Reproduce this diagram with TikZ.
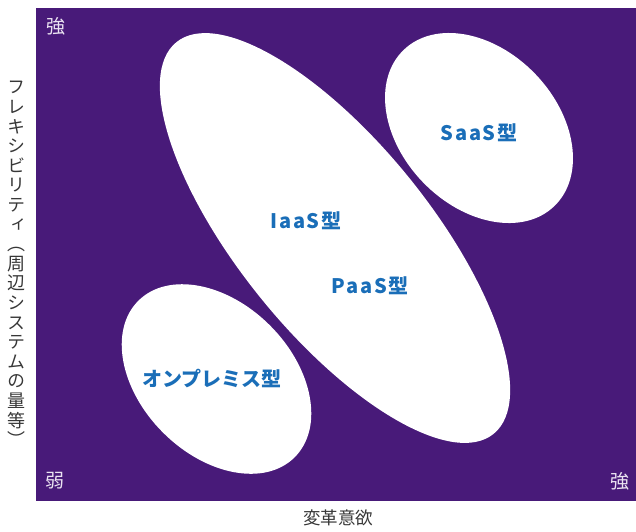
\documentclass[tikz,border=0pt]{standalone}
\usepackage{fontspec}
\newfontfamily\jp{Noto Sans CJK JP}
\newfontfamily\jpv[RawFeature=+vert]{Noto Sans CJK JP}
\newcommand\lsgap{\kern1.6pt}
\definecolor{bgpurple}{RGB}{72,26,121}
\definecolor{lblue}{RGB}{26,110,184}
\definecolor{axisgray}{RGB}{55,55,55}
\definecolor{cornertxt}{RGB}{235,228,242}
\begin{document}
\begin{tikzpicture}[x=1pt,y=-1pt,
  cluster/.style={fill=white},
  typelabel/.style={text=lblue,font=\jp\bfseries\fontsize{20}{23}\selectfont,inner sep=0pt},
  corner/.style={text=cornertxt,font=\jp\fontsize{19}{22}\selectfont,inner sep=0pt},
  axislabel/.style={text=axisgray,inner sep=0pt}]
\useasboundingbox (0,0) rectangle (636,531);
\fill[bgpurple] (36,8) rectangle (636,501);
% clusters
\fill[cluster, rotate around={-51:(335,238)}] (335,238) ellipse [x radius=252, y radius=95.5];
\fill[cluster, rotate around={-46:(479,128)}] (479,128) ellipse [x radius=108.5, y radius=78];
\fill[cluster, rotate around={-45:(216.5,379)}] (216.5,379) ellipse [x radius=110.6, y radius=75.7];
% labels
\node[typelabel] (saas) at (479,133) {S\lsgap a\lsgap a\lsgap S\lsgap 型};
\node[typelabel] (iaas) at (306,221) {I\lsgap a\lsgap a\lsgap S\lsgap 型};
\node[typelabel] (paas) at (370,286) {P\lsgap a\lsgap a\lsgap S\lsgap 型};
\node[typelabel] (onp) at (212,378) {オンプレミス型};
% corners
\node[corner] (tl) at (56,26) {強};
\node[corner] (bl) at (55,481) {弱};
\node[corner] (br) at (620,481) {強};
% axes
\node[axislabel,font=\jp\fontsize{17.5}{20}\selectfont] (xl) at (338,518) {変革意欲};
\node[axislabel,align=center,font=\jpv\fontsize{18}{19.6}\selectfont] (yl) at (17,264)
 {フ\\レ\\キ\\シ\\ビ\\リ\\テ\\ィ\\︵\\周\\辺\\シ\\ス\\テ\\ム\\の\\量\\等\\︶};
\end{tikzpicture}
\end{document}
